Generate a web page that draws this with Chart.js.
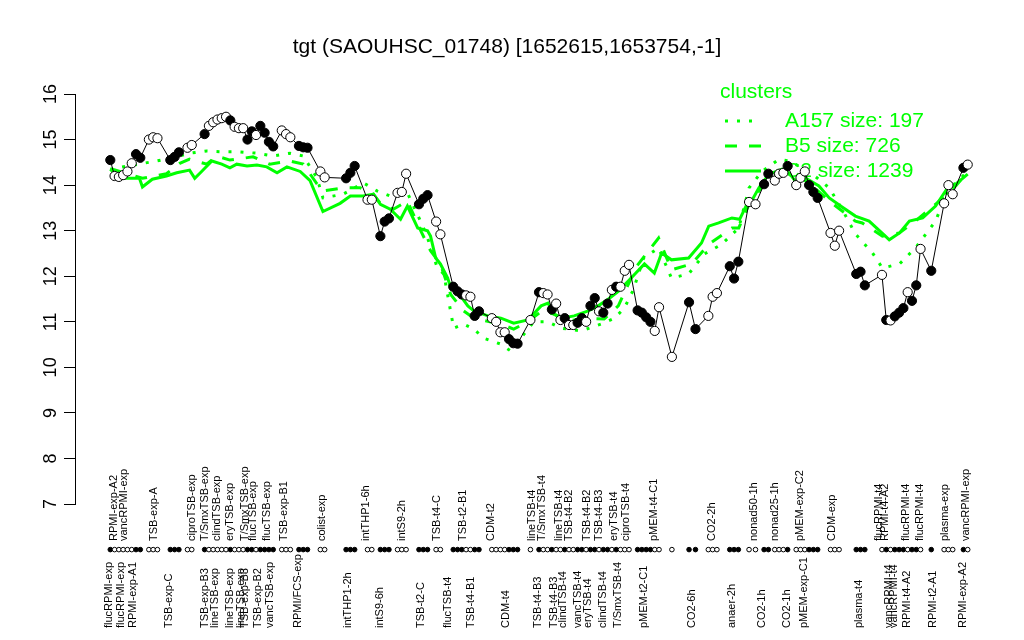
<!DOCTYPE html>
<html>
<head>
<meta charset="utf-8">
<script src="https://cdn.jsdelivr.net/npm/chart.js@4"></script>
<style>
  body { margin: 0; background: #fff; }
  #wrap { width: 1024px; height: 640px; }
</style>
</head>
<body>
<div id="wrap"><canvas id="myChart" width="1024" height="640"></canvas></div>
<script>
// sample positions along x (group gaps included), expression values, filled (1) / open (0)
const xPos = [1,2,3,4,5,6,7,8, 10,11,12, 15,16,17, 19,20,
  23,24,25,26,27,28,29,30,31,32,33,34,35,36,37,38,39, 41,42,43, 45,46,47,
  50,51, 56,57,58, 61,62, 64,65,66, 68,69,70, 73,74,75, 77,78,
  81,82,83,84,85,86,87, 90,91,92,93,94,95,96, 99,
  101,102,103,104,105,106,107,108,109,110,111,112,113,114,115,116,117,118,119,120,121,122,
  124,125,126,127,128,129, 132, 136,137.5, 140.5,141.5,142.5, 145.5,146.5,147.5,
  150,151.5, 153.5,154.5, 156,157,158, 159, 161,162,163, 164,165,166,
  169,170,171, 175,176,177, 181,182,183,184,185,186,187,188,189,190, 192.5,
  195.5,196.5,197.5, 200,201];
const expr = [14.55,14.2,14.18,14.22,14.3,14.48,14.68,14.6, 15.0,15.05,15.03, 14.55,14.62,14.72, 14.82,14.88,
  15.12,15.3,15.38,15.44,15.47,15.5,15.42,15.28,15.25,15.25,15.0,15.18,15.1,15.3,15.15,14.95,14.85, 15.2,15.12,15.05, 14.86,14.83,14.82,
  14.3,14.17, 14.15,14.27,14.42, 13.68,13.68, 12.88,13.2,13.27, 13.83,13.85,14.25, 13.58,13.7,13.78, 13.2,12.92,
  11.77,11.67,11.6,11.58,11.55,11.13,11.23, 11.08,11.0,10.77,10.77,10.62,10.53,10.52, 11.04,
  11.65,11.63,11.6,11.27,11.4,11.04,11.08,10.93,10.93,10.98,11.08,11.0,11.35,11.52,11.23,11.2,11.4,11.7,11.77,11.77,12.12,12.25,
  11.25,11.2,11.1,11.0,10.8,11.32, 10.23, 11.43,10.84, 11.13,11.55,11.63, 12.22,11.95,12.32,
  13.63,13.58, 14.02,14.25, 14.1,14.25,14.27, 14.42, 14.0,14.16,14.3, 14.0,13.85,13.72,
  12.95,12.67,13.0, 12.05,12.1,11.8, 12.03,11.04,11.03,11.12,11.2,11.3,11.65,11.46,11.8,12.6, 12.12,
  13.6,14.0,13.8, 14.38,14.45];
const filled = [1,0,0,0,0,0,1,1, 0,0,0, 1,1,1, 0,0,
  1,0,0,0,0,0,1,0,0,0,1,1,0,1,1,1,1, 0,0,0, 1,1,1,
  0,0, 1,1,1, 0,0, 1,1,1, 0,0,0, 1,1,1, 0,0,
  1,1,1,0,0,1,1, 0,0,0,0,1,1,1, 0,
  1,0,0,1,0,0,1,0,0,1,1,0,1,1,0,1,1,0,1,0,0,0,
  1,1,1,1,0,0, 0, 1,1, 0,0,0, 1,1,1,
  0,0, 1,1, 0,0,0, 1, 0,0,0, 1,1,1,
  0,0,0, 1,1,1, 0,1,0,1,1,1,0,1,1,0, 1,
  0,0,0, 1,0];

// cluster profiles
const c2Pos = [1,3.1,7.8,8.5,10.8,14.1,16.5,19.5,20.7,22.3,24.7,27,28.9,30.5,32.9,35.2,37.5,39.9,42.2,45.3,47.6,50.6,54.6,57,60,62.4,64,66.3,68.7,70.3,72.7,75,75.7,76.9,78,79.7,80.4,82.7,84.4,85.8,89.1,92.1,95.1,98.4,101.5,103.1,104.5,106.2,109.2,112.5,114.8,117.2,119.5,122.5,125.6,127.9,129.6,131.9,135.9,138.9,140.6,142.9,146,147.8,149.5,150.6,152.3,154.6,157.7,159.3,160.7,163.1,166.3,168.7,171.7,174.8,178,181.8,182.7,185.1,187.4,190.5,193.5,196.3,198.2,201];
const c2Val = [14.35,14.15,14.15,13.96,14.13,14.2,14.27,14.33,14.15,14.3,14.53,14.46,14.38,14.46,14.42,14.44,14.4,14.27,14.4,14.3,14.1,13.42,13.6,13.76,13.76,13.8,13.58,13.47,13.25,13.54,13.06,13.0,12.88,12.4,12.27,11.96,11.75,11.57,11.35,11.24,11.13,11.08,10.97,11.04,11.35,11.41,11.17,11.08,11.13,11.24,11.35,11.5,11.67,11.96,12.27,12.07,12.51,12.36,12.4,12.73,13.1,13.17,13.28,13.25,13.58,13.65,13.94,14.24,14.35,14.27,14.1,14.16,13.98,13.72,13.52,13.32,13.21,12.88,12.8,12.95,13.21,13.28,13.54,13.94,14.02,14.24];
const b5Pos = [1.5,8.5,14.1,17.2,19.5,23.5,25.8,28.9,34.3,38.2,42.9,46,49.2,50.6,55.3,59.3,62.1,64,67,70.3,73.4,75.7,78,80.4,83.4,85.8,92.1,95.1,98.4,101.5,104.5,107.8,112.5,116.2,119.5,122.5,123.2,128.9,131.9,136.6,140.6,146,147.6,150,152.3,154.6,159.3,164,168.7,174.8,176.4,181.1,185.1,188.8,193.5,198.2,200.5];
const b5Val = [14.35,14.15,14.25,14.48,14.57,14.46,14.64,14.55,14.62,14.46,14.53,14.46,14.03,13.87,13.94,13.94,13.83,13.6,13.47,13.65,13.0,12.56,12.27,11.6,11.24,11.08,10.95,10.84,11.0,11.23,11.17,11.02,11.08,11.06,11.35,11.96,12.15,12.84,12.14,12.27,12.7,13.06,13.06,13.58,13.87,14.16,14.3,14.05,13.65,13.21,13.17,12.88,12.95,13.21,13.58,13.98,14.24];
const a157Pos = [1,11.8,15.5,19.5,23.5,27.2,31.2,35.2,38.9,42.9,46,49.2,50.6,55.3,60,63.3,66.3,70.3,73.4,75,77.3,78.8,81.1,83.4,85.8,88.1,92.1,94.4,97.5,99.8,103.1,106.2,110.8,115.5,118.6,120.9,123,125.4,128.9,131.9,135.9,139.6,143.6,147.6,150,153,157,159.3,164,168.7,171.7,174.8,178.8,181.1,185.1,188.8,193.5,196.3,198.2,201];
const a157Val = [14.35,14.53,14.6,14.7,14.75,14.73,14.73,14.7,14.64,14.7,14.64,14.16,13.72,13.8,14.05,13.87,13.76,13.83,13.2,12.84,12.18,12.05,10.86,10.95,10.84,10.64,10.51,10.36,10.73,11.0,11.0,10.86,10.8,10.95,11.08,11.3,11.7,12.4,12.62,11.96,12.05,12.49,12.7,13.06,13.94,14.3,14.57,14.53,14.3,13.94,13.47,12.93,12.51,12.18,12.27,12.62,13.21,13.87,14.05,14.3];

const yTicks = [7, 8, 9, 10, 11, 12, 13, 14, 15, 16];
const titleText = 'tgt (SAOUHSC_01748) [1652615,1653754,-1]';
const legendTitle = 'clusters';
const legendNames = ['A157 size: 197', 'B5 size: 726', 'C2 size: 1239'];

// sample names: upper row and lower row, [position, name]
const upperLabels = [[1.9,'RPMI-exp-A2'],[4.3,'vancRPMI-exp'],[11.3,'TSB-exp-A'],[20,'ciproTSB-exp'],[23,'T/SmxTSB-exp'],[25.8,'clindTSB-exp'],[28.9,'eryTSB-exp'],[32.4,'T/SmxTSB-exp'],[34.3,'flucTSB-exp'],[37.5,'flucTSB-exp'],[41.5,'TSB-exp-B1'],[50.4,'colist-exp'],[60.7,'intTHP1-6h'],[69.1,'intS9-2h'],[77.3,'TSB-t4-C'],[83.2,'TSB-t2-B1'],[89.8,'CDM-t2'],[99.4,'lineTSB-t4'],[101.7,'T/SmxTSB-t4'],[105.7,'lineTSB-t4'],[108,'TSB-t4-B2'],[112.2,'TSB-t4-B2'],[115,'TSB-t4-B3'],[118.6,'eryTSB-t4'],[121.4,'ciproTSB-t4'],[127.9,'pMEM-t4-C1'],[141.3,'CO2-2h'],[151.1,'nonad50-1h'],[156,'nonad25-1h'],[161.9,'pMEM-exp-C2'],[169.4,'CDM-exp'],[180.4,'flucRPMI-t4'],[181.6,'RPMI-t4-A2'],[186.5,'flucRPMI-t4'],[189.8,'flucRPMI-t4'],[195.8,'plasma-exp'],[200.5,'vancRPMI-exp']];
const lowerLabels = [[0.8,'flucRPMI-exp'],[3.6,'flucRPMI-exp'],[6.2,'RPMI-exp-A1'],[14.8,'TSB-exp-C'],[23,'TSB-exp-B3'],[25.4,'lineTSB-exp'],[28.9,'lineTSB-exp'],[31.4,'lineTSB-exp'],[32.4,'TSB-exp-B3'],[35.4,'TSB-exp-B2'],[38.2,'vancTSB-exp'],[44.8,'RPMI/FCS-exp'],[56.5,'intTHP1-2h'],[64,'intS9-6h'],[73.4,'TSB-t2-C'],[79.7,'flucTSB-t4'],[85.1,'TSB-t4-B1'],[93.3,'CDM-t4'],[100.8,'TSB-t4-B3'],[104.5,'TSB-t4-B3'],[106.6,'clindTSB-t4'],[110.1,'vancTSB-t4'],[112.5,'eryTSB-t4'],[116,'clindTSB-t4'],[119.5,'T/SmxTSB-t4'],[125.6,'pMEM-t2-C1'],[136.6,'CO2-6h'],[146,'anaer-2h'],[153,'CO2-1h'],[158.8,'CO2-1h'],[162.7,'pMEM-exp-C1'],[175.7,'plasma-t4'],[182.7,'vancRPMI-t4'],[183.9,'vancRPMI-t4'],[186.9,'RPMI-t4-A2'],[192.8,'RPMI-t2-A1'],[199.8,'RPMI-exp-A2']];

const FONT = '"Liberation Sans", Arial, Helvetica, sans-serif';
const GREEN = '#00ff00';
const STRIP_Y = 6;

function pairs(xs, ys) {
    return xs.map((x, i) => ({ x: x, y: ys[i] }));
}

const pointFill = filled.map(f => f ? '#000000' : '#ffffff');
const span = xPos[xPos.length - 1] - xPos[0];

const decor = {
    id: 'decor',
    beforeDatasetsDraw(chart) {
        const ctx = chart.ctx;
        const ys = chart.scales.y;
        ctx.save();
        // y axis line, only between first and last tick
        ctx.strokeStyle = '#000';
        ctx.lineWidth = 1;
        ctx.beginPath();
        ctx.moveTo(ys.right - 0.5, ys.getPixelForValue(yTicks[0]));
        ctx.lineTo(ys.right - 0.5, ys.getPixelForValue(yTicks[yTicks.length - 1]));
        ctx.stroke();

        ctx.fillStyle = GREEN;
        ctx.font = '21px ' + FONT;
        ctx.textBaseline = 'middle';
        ctx.textAlign = 'left';
        ctx.fillText(legendTitle, 720, 92);
        const dashes = [[3, 9], [12, 12], []];
        legendNames.forEach((name, i) => {
            const y = 121 + i * 25;
            ctx.strokeStyle = GREEN;
            ctx.lineWidth = 3;
            ctx.setLineDash(dashes[i]);
            ctx.beginPath();
            ctx.moveTo(725, y);
            ctx.lineTo(761, y);
            ctx.stroke();
            ctx.fillText(name, 785, y);
        });
        ctx.restore();
    },
    afterDraw(chart) {
        const ctx = chart.ctx;
        const xs = chart.scales.x;
        const ys = chart.scales.y;
        ctx.save();
        ctx.fillStyle = '#000';
        ctx.font = '21px ' + FONT;
        ctx.textAlign = 'center';
        ctx.textBaseline = 'middle';
        ctx.fillText(titleText, 507, 47);

        ctx.font = '18px ' + FONT;
        yTicks.forEach(v => {
            ctx.save();
            ctx.translate(51, ys.getPixelForValue(v));
            ctx.rotate(-Math.PI / 2);
            ctx.fillText(String(v), 0, 0);
            ctx.restore();
        });

        ctx.font = '11px ' + FONT;
        ctx.textAlign = 'left';
        const rows = [[upperLabels, 541], [lowerLabels, 628]];
        rows.forEach(([list, base]) => {
            list.forEach(([p, name]) => {
                ctx.save();
                ctx.translate(xs.getPixelForValue(p), base);
                ctx.rotate(-Math.PI / 2);
                ctx.fillText(name, 0, 0);
                ctx.restore();
            });
        });
        ctx.restore();
    }
};

const ctx = document.getElementById('myChart').getContext('2d');
const myChart = new Chart(ctx, {
    type: 'scatter',
    data: {
        datasets: [
            {
                label: 'samples',
                data: pairs(xPos, expr),
                showLine: true,
                borderColor: '#000',
                borderWidth: 1,
                pointRadius: 4.6,
                pointBackgroundColor: pointFill,
                pointBorderColor: '#000',
                pointBorderWidth: 1,
                order: 0
            },
            {
                label: 'strip',
                data: pairs(xPos, xPos.map(() => STRIP_Y)),
                showLine: false,
                pointRadius: 2.3,
                pointBackgroundColor: pointFill,
                pointBorderColor: '#000',
                pointBorderWidth: 1,
                order: 1
            },
            {
                label: legendNames[0],
                data: pairs(a157Pos, a157Val),
                showLine: true,
                borderColor: GREEN,
                borderWidth: 3,
                borderDash: [3, 9],
                pointRadius: 0,
                order: 2
            },
            {
                label: legendNames[1],
                data: pairs(b5Pos, b5Val),
                showLine: true,
                borderColor: GREEN,
                borderWidth: 3,
                borderDash: [12, 12],
                pointRadius: 0,
                order: 2
            },
            {
                label: legendNames[2],
                data: pairs(c2Pos, c2Val),
                showLine: true,
                borderColor: GREEN,
                borderWidth: 3,
                pointRadius: 0,
                order: 2
            }
        ]
    },
    options: {
        responsive: false,
        animation: false,
        layout: { padding: { top: 94, bottom: 79, left: 0, right: 22 } },
        plugins: {
            legend: { display: false },
            tooltip: { enabled: false }
        },
        elements: { line: { tension: 0 } },
        scales: {
            x: {
                type: 'linear',
                display: false,
                min: xPos[0] - span * 0.04,
                max: xPos[xPos.length - 1] + span * 0.04
            },
            y: {
                type: 'linear',
                min: 5.75,
                max: 16,
                afterFit: s => { s.width = 76; },
                afterBuildTicks: s => { s.ticks = yTicks.map(v => ({ value: v })); },
                ticks: { display: false },
                grid: { drawOnChartArea: false, tickLength: 12, color: '#000', tickColor: '#000' },
                border: { display: false }
            }
        }
    },
    plugins: [decor]
});
</script>
</body>
</html>
